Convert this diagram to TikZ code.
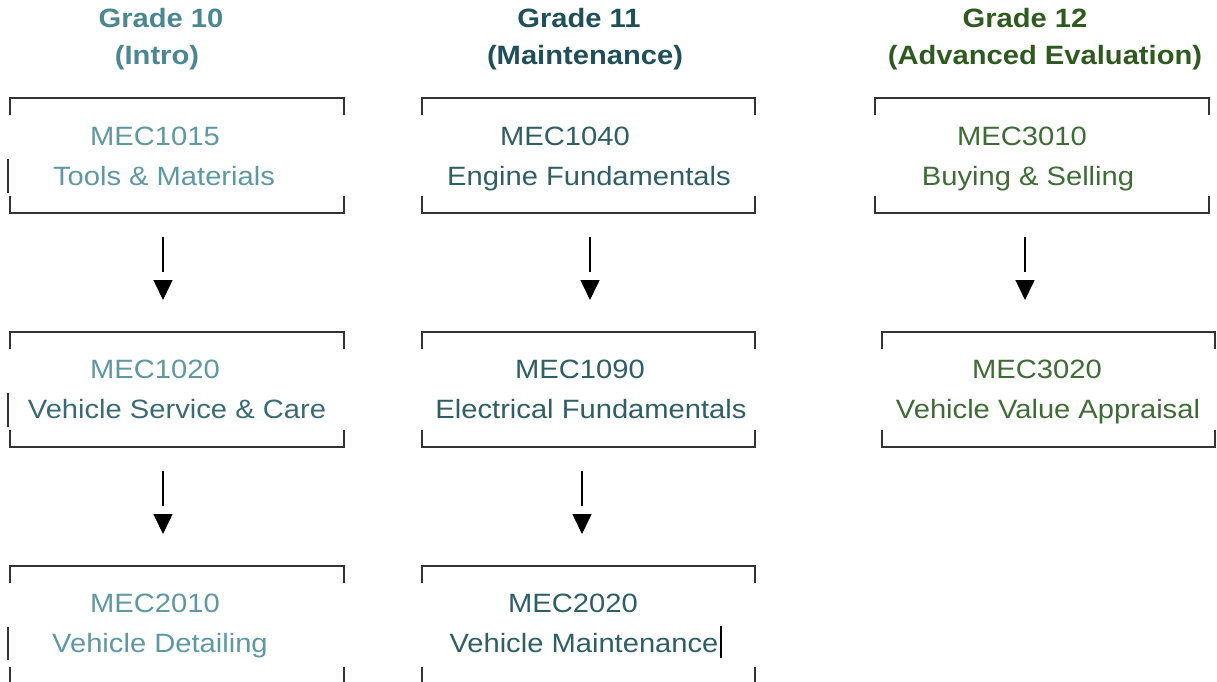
\documentclass[tikz,border=0pt]{standalone}
\usepackage{fontspec}
\setmainfont[FakeStretch=1.1]{Liberation Sans}
\usetikzlibrary{arrows.meta}

\definecolor{tealhead}{HTML}{4A8790}
\definecolor{tealtext}{HTML}{5E98A3}
\definecolor{tealdark}{HTML}{3A6B75}
\definecolor{pinehead}{HTML}{1F4F58}
\definecolor{pinetext}{HTML}{2F5E67}
\definecolor{mosshead}{HTML}{2E5A1F}
\definecolor{mosstext}{HTML}{3F6B36}
\definecolor{rule}{HTML}{333333}

\tikzset{
    course/.style={draw=none,inner sep=0pt,outer sep=0pt},
    line/.style={anchor=base,inner sep=0pt,font=\fontsize{26.5}{32}\selectfont},
    head/.style={line,font=\fontsize{26.5}{32}\selectfont\bfseries},
    shaft/.style={draw=black,line width=1.6pt,shorten <=24pt,shorten >=60pt},
    tiponly/.style={draw=black,line width=1.6pt,shorten <=67pt,shorten >=32pt,
        -{Triangle[length=20pt,width=19pt]}}
}

% bracket frame: open sides, short ticks at the corners
\newcommand{\frameit}[1]{%
    \draw[rule,line width=1.6pt] ([yshift=-17pt]#1.north west) -- (#1.north west)
        -- (#1.north east) -- ([yshift=-17pt]#1.north east);
    \draw[rule,line width=1.6pt] ([yshift=17pt]#1.south west) -- (#1.south west)
        -- (#1.south east) -- ([yshift=17pt]#1.south east);
}
% arrow with a small gap between line and head
\newcommand{\prereq}[4]{%
    \draw[shaft] ([xshift=#3]#1.south) -- ([xshift=#4]#2.north);
    \draw[tiponly] ([xshift=#3]#1.south) -- ([xshift=#4]#2.north);
}

\begin{document}
\begin{tikzpicture}[x=1pt,y=-1pt]
    \useasboundingbox (0,0) rectangle (1217,682);

    % grade headings
    \begin{scope}[every node/.style={head}]
        \node[tealhead] (g10) at (161,28) {Grade 10};
        \node[tealhead] (g10b) at (157,65) {(Intro)};
        \node[pinehead] (g11) at (579,28) {Grade 11};
        \node[pinehead] (g11b) at (585,65) {(Maintenance)};
        \node[mosshead] (g12) at (1025,28) {Grade 12};
        \node[mosshead] (g12b) at (1045,65) {(Advanced Evaluation)};
    \end{scope}

    % course frames
    \begin{scope}[every node/.style={course,minimum height=115pt}]
        \node[minimum width=334pt] (b1015) at (177,155.5) {};
        \node[minimum width=334pt] (b1020) at (177,389.5) {};
        \node[minimum width=334pt,minimum height=118pt] (b2010) at (177,625) {};
        \node[minimum width=333pt] (b1040) at (588.5,155.5) {};
        \node[minimum width=333pt] (b1090) at (588.5,389.5) {};
        \node[minimum width=333pt,minimum height=118pt] (b2020) at (588.5,625) {};
        \node[minimum width=334pt] (b3010) at (1042,155.5) {};
        \node[minimum width=333pt] (b3020) at (1048.5,389.5) {};
    \end{scope}
    \frameit{b1015}
    \frameit{b1020}
    \frameit{b2010}
    \frameit{b1040}
    \frameit{b1090}
    \frameit{b2020}
    \frameit{b3010}
    \frameit{b3020}

    % course texts
    \begin{scope}[every node/.style={line}]
        \node[tealtext] (c1015) at (155,145) {MEC1015};
        \node[tealtext] (n1015) at (164,185) {Tools \& Materials};
        \node[tealtext] (c1020) at (155,378) {MEC1020};
        \node[tealdark] (n1020) at (177,418) {Vehicle Service \& Care};
        \node[tealtext] (c2010) at (155,612) {MEC2010};
        \node[tealtext] (n2010) at (160,652) {Vehicle Detailing};
        \node[pinetext] (c1040) at (565,145) {MEC1040};
        \node[pinetext] (n1040) at (589,185) {Engine Fundamentals};
        \node[pinetext] (c1090) at (580,378) {MEC1090};
        \node[pinetext] (n1090) at (591,418) {Electrical Fundamentals};
        \node[pinetext] (c2020) at (573,612) {MEC2020};
        \node[pinetext] (n2020) at (584,652) {Vehicle Maintenance};
        \node[mosstext] (c3010) at (1022,145) {MEC3010};
        \node[mosstext] (n3010) at (1028,185) {Buying \& Selling};
        \node[mosstext] (c3020) at (1037,378) {MEC3020};
        \node[mosstext] (n3020) at (1048,418) {Vehicle Value Appraisal};
    \end{scope}

    % stray edit marks
    \draw[rule,line width=1.6pt] (8,159) -- (8,193);
    \draw[rule,line width=1.6pt] (8,393) -- (8,427);
    \draw[rule,line width=1.6pt] (8,627) -- (8,660);
    \draw[black,line width=1.4pt] (721,626) -- (721,658);

    % prerequisites
    \prereq{b1015}{b1020}{-14pt}{-14pt}
    \prereq{b1020}{b2010}{-14pt}{-14pt}
    \prereq{b1040}{b1090}{1.5pt}{1.5pt}
    \prereq{b1090}{b2020}{-6.5pt}{-6.5pt}
    \prereq{b3010}{b3020}{-17pt}{-23.5pt}
\end{tikzpicture}
\end{document}
